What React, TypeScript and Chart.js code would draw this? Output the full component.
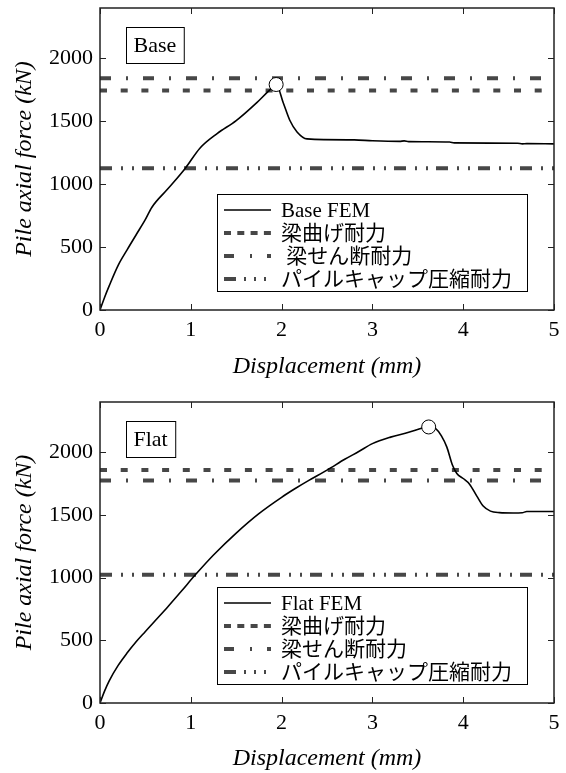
import React, { useEffect, useRef } from "react";
import { Chart, registerables } from "chart.js";

Chart.register(...registerables);

// ---------- data ----------
const xTicks = [0, 1, 2, 3, 4, 5];
const yTicks = [0, 500, 1000, 1500, 2000];

const baseDisp = [0, 0.05, 0.1, 0.2, 0.3, 0.4, 0.5, 0.57, 0.75, 0.94, 1.1, 1.29, 1.5, 1.73, 1.85, 1.94, 2.02, 2.09, 2.17, 2.28, 2.8, 3.0, 3.3, 3.35, 3.4, 3.85, 3.9, 4.6, 4.65, 4.7, 5.0];
const baseForce = [0, 100, 190, 355, 480, 600, 720, 815, 965, 1127, 1286, 1402, 1505, 1650, 1735, 1792, 1643, 1508, 1415, 1360, 1352, 1345, 1340, 1344, 1338, 1335, 1328, 1325, 1320, 1322, 1320];

const flatDisp = [0, 0.05, 0.1, 0.2, 0.3, 0.4, 0.5, 0.6, 0.75, 0.9, 1.05, 1.25, 1.5, 1.75, 2.0, 2.15, 2.3, 2.5, 2.7, 2.85, 3.0, 3.2, 3.4, 3.55, 3.62, 3.7, 3.76, 3.82, 3.88, 3.93, 4.0, 4.07, 4.15, 4.22, 4.3, 4.4, 4.55, 4.65, 4.7, 5.0];
const flatForce = [0, 95, 175, 300, 400, 490, 570, 650, 770, 895, 1022, 1180, 1355, 1510, 1640, 1710, 1775, 1857, 1945, 2005, 2068, 2120, 2158, 2192, 2201, 2185, 2130, 2040, 1900, 1830, 1790, 1745, 1650, 1570, 1530, 1518, 1515, 1517, 1527, 1527];

// capacities: [梁曲げ耐力, 梁せん断耐力, パイルキャップ圧縮耐力]
const baseCapacities = [1745, 1842, 1126];
const flatCapacities = [1857, 1775, 1022];

const basePeak = [1.94, 1792];
const flatPeak = [3.62, 2201];

const baseLegend = ["Base FEM", "梁曲げ耐力", " 梁せん断耐力", "パイルキャップ圧縮耐力"];
const flatLegend = ["Flat FEM", "梁曲げ耐力", "梁せん断耐力", "パイルキャップ圧縮耐力"];

// ---------- styles ----------
const serif = "'Liberation Serif', 'Times New Roman', serif";
const legendFont = "21px 'Liberation Serif', 'Noto Sans CJK JP', serif";
const gray = "#474747";
const dashBending = [7, 13.7];
const dashShear = [11, 15, 2, 15];
const dashPile = [12, 9, 2, 9, 2, 8];
const legendDashes = [[], [7, 6.3], [10, 16, 2, 15], [12, 8, 2, 8, 2, 8, 2, 8]];

function makePlugin(label: string, legend: string[]) {
  return {
    id: "decor",
    afterDraw(chart: any) {
      const ctx = chart.ctx as CanvasRenderingContext2D;
      const a = chart.chartArea;
      const xs = chart.scales.x;
      const ys = chart.scales.y;
      ctx.save();
      // ticks (inward, all four sides)
      ctx.strokeStyle = "#222";
      ctx.lineWidth = 1;
      ctx.setLineDash([]);
      xTicks.forEach((v) => {
        const px = Math.round(xs.getPixelForValue(v)) + 0.5;
        ctx.beginPath();
        ctx.moveTo(px, a.bottom);
        ctx.lineTo(px, a.bottom - 6);
        ctx.moveTo(px, a.top);
        ctx.lineTo(px, a.top + 6);
        ctx.stroke();
      });
      yTicks.forEach((v) => {
        const py = Math.round(ys.getPixelForValue(v)) + 0.5;
        ctx.beginPath();
        ctx.moveTo(a.left, py);
        ctx.lineTo(a.left + 6, py);
        ctx.moveTo(a.right, py);
        ctx.lineTo(a.right - 6, py);
        ctx.stroke();
      });
      // frame
      ctx.lineWidth = 1.5;
      ctx.strokeStyle = "#222";
      ctx.strokeRect(a.left, a.top, a.right - a.left, a.bottom - a.top);

      // panel label box
      ctx.font = `22px ${serif}`;
      const tw = ctx.measureText(label).width;
      const bx = a.left + 26;
      const by = a.top + 19;
      const bw = tw + 15;
      const bh = 36;
      ctx.fillStyle = "#fff";
      ctx.fillRect(bx, by, bw, bh);
      ctx.lineWidth = 1;
      ctx.strokeStyle = "#000";
      ctx.strokeRect(bx + 0.5, by + 0.5, bw, bh);
      ctx.fillStyle = "#000";
      ctx.textBaseline = "middle";
      ctx.textAlign = "left";
      ctx.fillText(label, bx + 7.5, by + bh / 2 + 1);

      // legend box
      const lx = a.left + 117;
      const lw = 310;
      const lh = 97;
      const ly = a.bottom - 19 - lh;
      ctx.fillStyle = "#fff";
      ctx.fillRect(lx, ly, lw, lh);
      ctx.strokeStyle = "#000";
      ctx.lineWidth = 1;
      ctx.strokeRect(lx + 0.5, ly + 0.5, lw, lh);
      const rows = [16, 39, 62, 85];
      legend.forEach((t, i) => {
        const ry = ly + rows[i];
        ctx.beginPath();
        ctx.setLineDash(legendDashes[i]);
        ctx.lineCap = "butt";
        if (i === 0) {
          ctx.strokeStyle = "#000";
          ctx.lineWidth = 1.6;
        } else {
          ctx.strokeStyle = gray;
          ctx.lineWidth = 4;
        }
        ctx.moveTo(lx + 7, ry);
        ctx.lineTo(lx + 54, ry);
        ctx.stroke();
        ctx.setLineDash([]);
        ctx.fillStyle = "#000";
        ctx.font = legendFont;
        ctx.textBaseline = "middle";
        ctx.fillText(t, lx + 64, ry + 1);
      });
      ctx.restore();
    },
  };
}

type PanelProps = {
  disp: number[];
  force: number[];
  caps: number[];
  peak: number[];
  label: string;
  legend: string[];
  height: number;
  padTop: number;
  titlePad: number;
};

function Panel(p: PanelProps) {
  const ref = useRef<HTMLCanvasElement>(null);
  useEffect(() => {
    const hline = (v: number) => [
      { x: xTicks[0], y: v },
      { x: xTicks[xTicks.length - 1], y: v },
    ];
    const chart = new Chart(ref.current as HTMLCanvasElement, {
      type: "scatter",
      data: {
        datasets: [
          {
            data: [{ x: p.peak[0], y: p.peak[1] }],
            pointRadius: 7,
            pointBackgroundColor: "#fff",
            pointBorderColor: "#000",
            pointBorderWidth: 1,
            showLine: false,
          } as any,
          {
            data: p.disp.map((x, i) => ({ x, y: p.force[i] })),
            showLine: true,
            borderColor: "#000",
            borderWidth: 1.6,
            pointRadius: 0,
            cubicInterpolationMode: "monotone",
          },
          {
            data: hline(p.caps[0]),
            showLine: true,
            borderColor: gray,
            borderWidth: 4,
            borderDash: dashBending,
            borderCapStyle: "butt",
            pointRadius: 0,
          },
          {
            data: hline(p.caps[1]),
            showLine: true,
            borderColor: gray,
            borderWidth: 4,
            borderDash: dashShear,
            borderCapStyle: "butt",
            pointRadius: 0,
          },
          {
            data: hline(p.caps[2]),
            showLine: true,
            borderColor: gray,
            borderWidth: 4,
            borderDash: dashPile,
            borderCapStyle: "butt",
            pointRadius: 0,
          },
        ],
      },
      options: {
        responsive: false,
        animation: false,
        events: [],
        layout: { padding: { top: p.padTop, right: 12, left: 0, bottom: 0 } },
        plugins: { legend: { display: false }, tooltip: { enabled: false } },
        scales: {
          x: {
            type: "linear",
            min: 0,
            max: 5,
            afterBuildTicks: (s: any) => {
              s.ticks = xTicks.map((v) => ({ value: v }));
            },
            afterFit: (s: any) => {
              s.height = 70;
              s.paddingLeft = 0;
              s.paddingRight = 0;
              s.paddingTop = 0;
              s.paddingBottom = 0;
            },
            grid: { display: false, drawTicks: false },
            border: { display: false },
            ticks: {
              color: "#000",
              font: { family: serif, size: 22 },
              padding: 7,
              maxRotation: 0,
              autoSkip: false,
              callback: (v: any) => String(v),
            },
            title: {
              display: true,
              text: "Displacement (mm)",
              color: "#000",
              font: { family: serif, size: 24, style: "italic", lineHeight: 1 },
              padding: { top: 0, bottom: p.titlePad },
            },
          },
          y: {
            type: "linear",
            min: 0,
            max: 2400,
            afterBuildTicks: (s: any) => {
              s.ticks = yTicks.map((v) => ({ value: v }));
            },
            afterFit: (s: any) => {
              s.width = 100;
              s.paddingLeft = 0;
              s.paddingRight = 0;
              s.paddingTop = 0;
              s.paddingBottom = 0;
            },
            grid: { display: false, drawTicks: false },
            border: { display: false },
            ticks: {
              color: "#000",
              font: { family: serif, size: 22 },
              padding: 7,
              autoSkip: false,
              callback: (v: any) => String(v),
            },
            title: {
              display: true,
              text: "Pile axial force (kN)",
              color: "#000",
              font: { family: serif, size: 24, style: "italic", lineHeight: 1 },
              padding: { top: 13, bottom: 0 },
            },
          },
        },
      } as any,
      plugins: [makePlugin(p.label, p.legend)],
    });
    return () => chart.destroy();
  }, []);
  return (
    <canvas
      ref={ref}
      width={566}
      height={p.height}
      style={{ display: "block", width: 566, height: p.height }}
    />
  );
}

export default function App() {
  return (
    <div style={{ position: "absolute", left: 0, top: 0, width: 566, height: 773, background: "#fff" }}>
      <Panel
        disp={baseDisp}
        force={baseForce}
        caps={baseCapacities}
        peak={basePeak}
        label="Base"
        legend={baseLegend}
        height={380}
        padTop={7}
        titlePad={1}
      />
      <Panel
        disp={flatDisp}
        force={flatForce}
        caps={flatCapacities}
        peak={flatPeak}
        label="Flat"
        legend={flatLegend}
        height={393}
        padTop={22}
        titlePad={2}
      />
    </div>
  );
}
